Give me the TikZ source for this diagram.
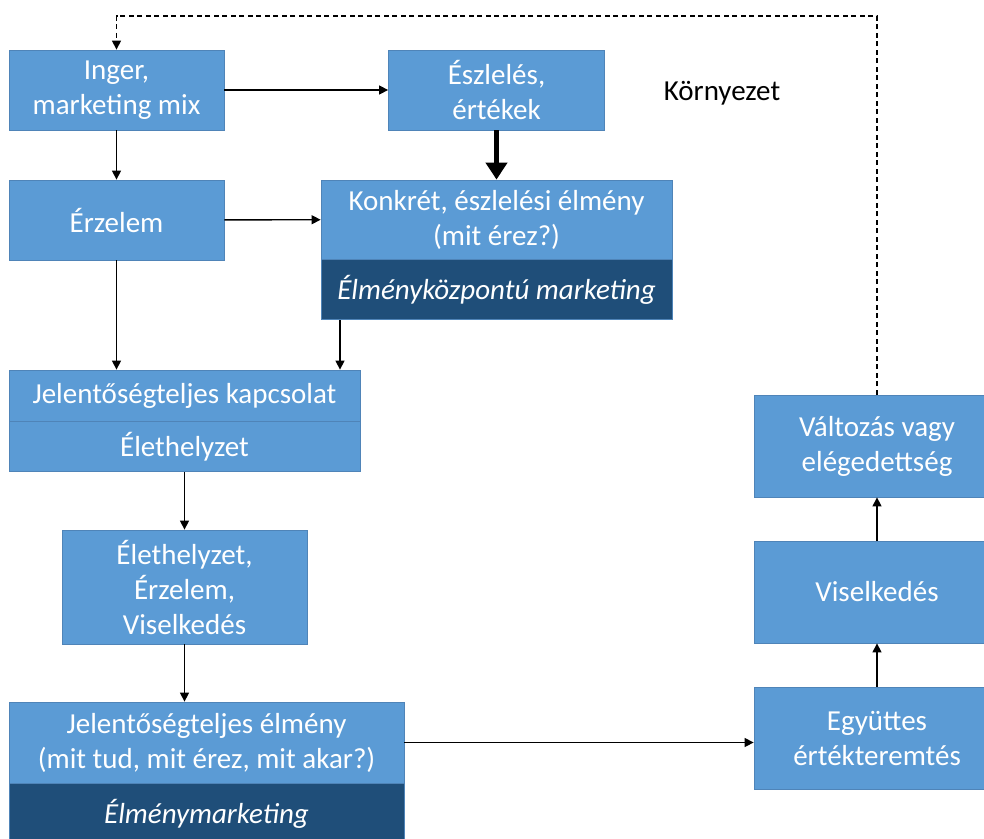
\documentclass[tikz,border=0pt]{standalone}
\usepackage{fontspec}
\setmainfont{Carlito}
\usetikzlibrary{arrows,arrows.meta,positioning}

\definecolor{boxblue}{HTML}{5B9BD5}
\definecolor{boxdark}{HTML}{1F4E79}
\definecolor{boxline}{HTML}{4F84B8}

\begin{document}
\begin{tikzpicture}[x=1pt,y=-1pt,
    box/.style={rectangle,fill=boxblue,draw=boxline,line width=0.8pt,text=white,align=center,
        inner sep=0pt,font=\fontsize{29}{35}\selectfont},
    band/.style={box,fill=boxdark,font=\fontsize{29}{35}\selectfont\itshape},
    arr/.style={line width=1.4pt,-{Triangle[width=9pt,length=9pt]}}]
\useasboundingbox (0,0) rectangle (984,838);
\clip (0,0) rectangle (984,838);

% left column
\node [box,minimum width=215pt,minimum height=80pt] (inger) at (116.5,90) {Inger,\\marketing mix};
\node [box,minimum width=215pt,minimum height=80pt] (erzelem) at (116.5,220) {Érzelem};
\node [box,minimum width=216pt,minimum height=80pt] (eszl) at (496.5,90) {Észlelés,\\értékek};
\node [box,minimum width=351pt,minimum height=79pt] (konkret) at (496.5,219.5) {Konkrét, észlelési élmény\\(mit érez?)};
\node [band,minimum width=351pt,minimum height=60pt,below=0pt of konkret] (konkretm) {Élményközpontú marketing};
\node [box,minimum width=351pt,minimum height=51pt] (kapcs) at (184.5,395.5) {Jelentőségteljes kapcsolat};
\node [box,minimum width=351pt,minimum height=50pt,below=0pt of kapcs] (helyzet) {Élethelyzet};
\node [box,minimum width=245pt,minimum height=114pt] (harom) at (184.5,587) {Élethelyzet,\\Érzelem,\\Viselkedés};
\node [box,minimum width=395pt,minimum height=81pt] (elmeny) at (206.5,742.5) {Jelentőségteljes élmény\\(mit tud, mit érez, mit akar?)};
\node [band,minimum width=395pt,minimum height=60pt,below=0pt of elmeny] (elmenym) {Élménymarketing};

% right column
\node [box,minimum width=246pt,minimum height=102pt] (egyutt) at (877,738) {Együttes\\értékteremtés};
\node [box,minimum width=246pt,minimum height=102pt] (visel) at (877,592) {Viselkedés};
\node [box,minimum width=246pt,minimum height=102pt] (valt) at (877,446) {Változás vagy\\elégedettség};

\node [font=\fontsize{29}{35}\selectfont] (korny) at (722,93) {Környezet};

\draw [arr] (inger) -- (eszl);
\draw [arr] (inger) -- (erzelem);
\draw [line width=5pt,-{Triangle[width=21pt,length=17pt]}] (eszl) -- (konkret);
\draw [arr] (erzelem) -- (konkret);
\draw [arr] (erzelem.south) -- (erzelem.south |- kapcs.north);
\draw [arr] (konkretm.south -| 340,0) -- (kapcs.north -| 340,0);
\draw [arr] (helyzet) -- (harom);
\draw [arr] (harom.south) -- (harom.south |- elmeny.north);
\draw [arr] (elmeny.east) -- (elmeny.east -| egyutt.west);
\draw [arr] (egyutt) -- (visel);
\draw [arr] (visel) -- (valt);

\coordinate (fent) at (500,16);
\draw [line width=1.2pt,dash pattern=on 5pt off 3.5pt,-{Triangle[width=9pt,length=9pt]}]
    (valt.north) |- (fent) -| (inger.north);
\end{tikzpicture}
\end{document}
